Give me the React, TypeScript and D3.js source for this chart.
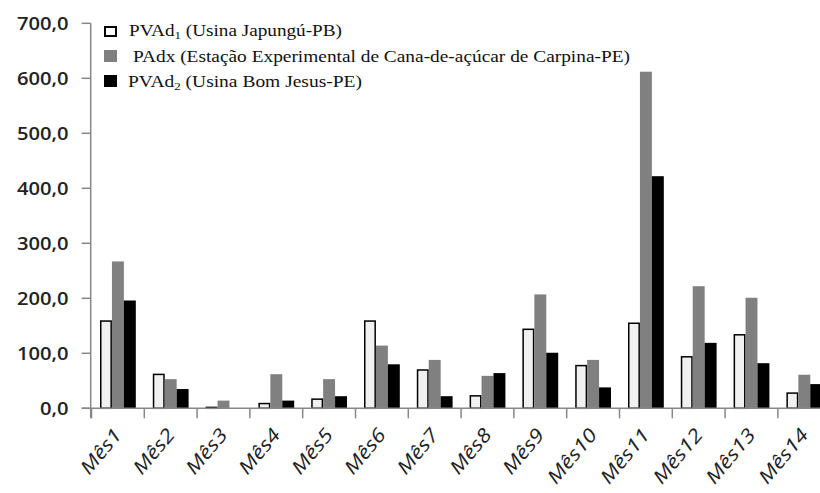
import React from 'react';
import * as d3 from 'd3';

const categories = ['Mês1', 'Mês2', 'Mês3', 'Mês4', 'Mês5', 'Mês6', 'Mês7', 'Mês8', 'Mês9', 'Mês10', 'Mês11', 'Mês12', 'Mês13', 'Mês14'];
const seriesKeys = ['pvad1', 'padx', 'pvad2'];
const pvad1 = [160, 63, 3, 10, 18, 160, 71, 24, 145, 79, 156, 95, 135, 29];
const padx = [267, 53, 14, 62, 53, 114, 88, 59, 207, 88, 612, 222, 201, 61];
const pvad2 = [196, 35, 0, 14, 22, 80, 22, 64, 101, 38, 422, 119, 82, 44];
const yTicks = [0, 100, 200, 300, 400, 500, 600, 700];
const yTickLabels = ['0,0', '100,0', '200,0', '300,0', '400,0', '500,0', '600,0', '700,0'];

const seriesValues: Record<string, number[]> = { pvad1, padx, pvad2 };
const fills: Record<string, string> = { pvad1: '#f1f1f1', padx: '#808080', pvad2: '#000000' };

export default function App() {
  const W = 820, H = 493;
  const left = 91.5, band = 52.8;
  const x0 = d3.scaleBand<string>().domain(categories).range([left, left + band * categories.length]).padding(0);
  const x1 = d3.scaleBand<string>().domain(seriesKeys).range([8.5, band - 8.5]).padding(0);
  const y = d3.scaleLinear().domain([0, 700]).range([408.3, 23.3]);
  const axisX = 90.7;
  const axisColor = '#878787';

  return (
    <svg width={W} height={H} style={{ position: 'absolute', left: 0, top: 0, background: '#fff', overflow: 'hidden' }}>
      <rect x={0} y={0} width={W} height={H} fill="#fff" />
      {categories.map((c, i) => (
        <g key={c} transform={`translate(${x0(c)},0)`}>
          {seriesKeys.map((k) => {
            const v = seriesValues[k][i];
            const bx = x1(k)!;
            const bw = x1.bandwidth();
            const top = y(v);
            const h = y(0) - top;
            if (h <= 0) return null;
            if (k === 'pvad1') {
              return <rect key={k} x={bx + 0.75} y={top + 0.75} width={bw - 1.5} height={Math.max(h - 0.75, 0)} fill={fills[k]} stroke="#000" strokeWidth={1.5} />;
            }
            return <rect key={k} x={bx} y={top} width={bw} height={h} fill={fills[k]} />;
          })}
        </g>
      ))}
      <line x1={axisX} x2={axisX} y1={y(700)} y2={y(0) + 10} stroke={axisColor} strokeWidth={1.5} />
      {yTicks.map((t, i) => (
        <g key={t}>
          <line x1={axisX - 9} x2={axisX} y1={y(t)} y2={y(t)} stroke={axisColor} strokeWidth={1.5} />
          <text transform={`translate(68.5,${y(t) + 6.5}) scale(1.12,1)`} textAnchor="end" fontFamily="'Open Sans', sans-serif" fontWeight="600" fontSize={18} fill="#222">{yTickLabels[i]}</text>
        </g>
      ))}
      <line x1={axisX - 9} x2={W} y1={y(0)} y2={y(0)} stroke={axisColor} strokeWidth={1.5} />
      {categories.map((c) => (
        <line key={c} x1={x0(c)!} x2={x0(c)!} y1={y(0)} y2={y(0) + 10} stroke={axisColor} strokeWidth={1.5} />
      ))}
      {categories.map((c) => (
        <text key={c} transform={`translate(${x0(c)! + band / 2 + 5},${y(0) + 27}) rotate(-50) scale(1.2,1)`} textAnchor="end" fontFamily="'Open Sans', sans-serif" fontStyle="italic" fontSize={19} fill="#222">{c}</text>
      ))}
      <rect x={105} y={27} width={11} height={9} fill="#fff" stroke="#000" strokeWidth={2} />
      <rect x={104} y={50} width={13} height={12} fill="#808080" />
      <rect x={104} y={75} width={13} height={12} fill="#000" />
      <g fontFamily="'Liberation Serif', 'Times New Roman', serif" fontSize={16.5} fill="#111">
        <text x={129} y={36} textLength={213} lengthAdjust="spacingAndGlyphs">PVAd<tspan fontSize={11} dy={3}>1</tspan><tspan dy={-3}> (Usina Japungú-PB)</tspan></text>
        <text x={133} y={62} textLength={497} lengthAdjust="spacingAndGlyphs">PAdx (Estação Experimental de Cana-de-açúcar de Carpina-PE)</text>
        <text x={128} y={87} textLength={234} lengthAdjust="spacingAndGlyphs">PVAd<tspan fontSize={11} dy={3}>2</tspan><tspan dy={-3}> (Usina Bom Jesus-PE)</tspan></text>
      </g>
    </svg>
  );
}
